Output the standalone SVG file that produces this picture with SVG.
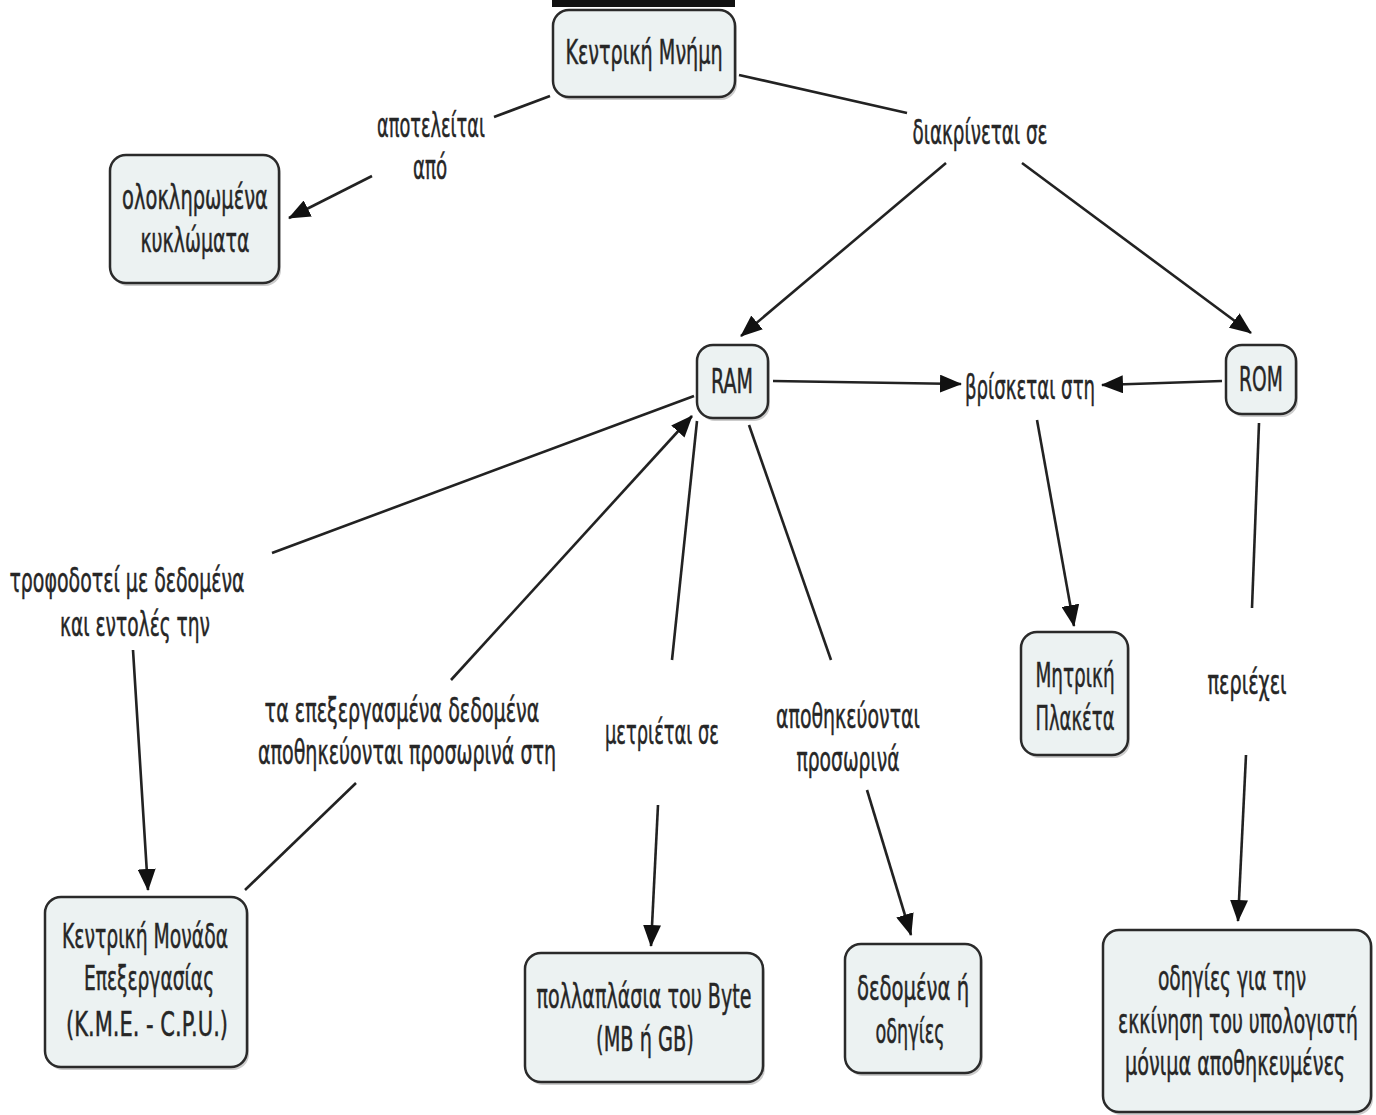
<svg xmlns="http://www.w3.org/2000/svg" width="1376" height="1115" viewBox="0 0 1376 1115">
<style>
.node rect.b{fill:#ecf2f2;stroke:#2a2a2a;stroke-width:2.5}
.node rect.s{fill:#9a9a9a;opacity:0.5}
text{font-family:"DejaVu Sans","Liberation Sans",sans-serif;font-size:33px;fill:#262626;stroke:#262626;stroke-width:0.5;text-anchor:middle}
.conn line{stroke:#222;stroke-width:2.6}
</style>
<defs>
<marker id="ah" viewBox="0 0 22 18" refX="21" refY="9" markerWidth="22" markerHeight="18" markerUnits="userSpaceOnUse" orient="auto">
<path d="M0,0 L22,9 L0,18 z" fill="#111"/>
</marker>
</defs>
<rect x="552" y="0" width="183" height="7" fill="#111"/>
<g class="conn" id="connectors">
<line x1="550" y1="96" x2="494" y2="117"/>
<line x1="372" y1="176" x2="289" y2="218" marker-end="url(#ah)"/>
<line x1="739" y1="75" x2="907" y2="113"/>
<line x1="946" y1="163" x2="741" y2="336" marker-end="url(#ah)"/>
<line x1="1022" y1="163" x2="1251" y2="333" marker-end="url(#ah)"/>
<line x1="773" y1="381" x2="961" y2="384" marker-end="url(#ah)"/>
<line x1="1222" y1="381" x2="1102" y2="385" marker-end="url(#ah)"/>
<line x1="1037" y1="420" x2="1074" y2="626" marker-end="url(#ah)"/>
<line x1="694" y1="396" x2="272" y2="553"/>
<line x1="133" y1="650" x2="148" y2="890" marker-end="url(#ah)"/>
<line x1="245" y1="890" x2="356" y2="783"/>
<line x1="451" y1="680" x2="692" y2="416" marker-end="url(#ah)"/>
<line x1="697" y1="421" x2="672" y2="660"/>
<line x1="658" y1="805" x2="651" y2="946" marker-end="url(#ah)"/>
<line x1="749" y1="425" x2="831" y2="660"/>
<line x1="867" y1="790" x2="911" y2="935" marker-end="url(#ah)"/>
<line x1="1259" y1="423" x2="1252" y2="608"/>
<line x1="1246" y1="755" x2="1238" y2="921" marker-end="url(#ah)"/>
</g>
<g id="n1" class="node"><rect class="s" x="555" y="13" width="182" height="87" rx="16"/><rect class="b" x="553" y="10" width="182" height="87" rx="16"/>
<text transform="translate(644,64) scale(0.6,1)" textLength="262" lengthAdjust="spacingAndGlyphs">Κεντρική Μνήμη</text></g>
<g id="n2" class="node"><rect class="s" x="112" y="158" width="169" height="128" rx="16"/><rect class="b" x="110" y="155" width="169" height="128" rx="16"/>
<text transform="translate(195,209) scale(0.6,1)" textLength="243" lengthAdjust="spacingAndGlyphs">ολοκληρωμένα</text>
<text transform="translate(195,252) scale(0.6,1)" textLength="182" lengthAdjust="spacingAndGlyphs">κυκλώματα</text></g>
<g id="n3" class="node"><rect class="s" x="699" y="348" width="71" height="73" rx="16"/><rect class="b" x="697" y="345" width="71" height="73" rx="16"/>
<text transform="translate(732,393) scale(0.6,1)" textLength="70" lengthAdjust="spacingAndGlyphs">RAM</text></g>
<g id="n4" class="node"><rect class="s" x="1228" y="348" width="70" height="69" rx="16"/><rect class="b" x="1226" y="345" width="70" height="69" rx="16"/>
<text transform="translate(1261,391) scale(0.6,1)" textLength="73" lengthAdjust="spacingAndGlyphs">ROM</text></g>
<g id="n5" class="node"><rect class="s" x="1023" y="635" width="107" height="123" rx="16"/><rect class="b" x="1021" y="632" width="107" height="123" rx="16"/>
<text transform="translate(1075,687) scale(0.6,1)" textLength="132" lengthAdjust="spacingAndGlyphs">Μητρική</text>
<text transform="translate(1075,730) scale(0.6,1)" textLength="132" lengthAdjust="spacingAndGlyphs">Πλακέτα</text></g>
<g id="n6" class="node"><rect class="s" x="47" y="900" width="202" height="170" rx="16"/><rect class="b" x="45" y="897" width="202" height="170" rx="16"/>
<text transform="translate(145,948) scale(0.6,1)" textLength="277" lengthAdjust="spacingAndGlyphs">Κεντρική Μονάδα</text>
<text transform="translate(149,990) scale(0.6,1)" textLength="217" lengthAdjust="spacingAndGlyphs">Επεξεργασίας</text>
<text transform="translate(147,1036) scale(0.6,1)" textLength="270" lengthAdjust="spacingAndGlyphs">(Κ.Μ.Ε. - C.P.U.)</text></g>
<g id="n7" class="node"><rect class="s" x="527" y="956" width="238" height="129" rx="16"/><rect class="b" x="525" y="953" width="238" height="129" rx="16"/>
<text transform="translate(644,1008) scale(0.6,1)" textLength="358" lengthAdjust="spacingAndGlyphs">πολλαπλάσια του Byte</text>
<text transform="translate(645,1051) scale(0.6,1)" textLength="163" lengthAdjust="spacingAndGlyphs">(MB ή GB)</text></g>
<g id="n8" class="node"><rect class="s" x="847" y="947" width="136" height="129" rx="16"/><rect class="b" x="845" y="944" width="136" height="129" rx="16"/>
<text transform="translate(913,1000) scale(0.6,1)" textLength="187" lengthAdjust="spacingAndGlyphs">δεδομένα ή</text>
<text transform="translate(910,1043) scale(0.6,1)" textLength="115" lengthAdjust="spacingAndGlyphs">οδηγίες</text></g>
<g id="n9" class="node"><rect class="s" x="1105" y="933" width="268" height="182" rx="16"/><rect class="b" x="1103" y="930" width="268" height="182" rx="16"/>
<text transform="translate(1232,990) scale(0.6,1)" textLength="247" lengthAdjust="spacingAndGlyphs">οδηγίες για την</text>
<text transform="translate(1238,1033) scale(0.6,1)" textLength="400" lengthAdjust="spacingAndGlyphs">εκκίνηση του υπολογιστή</text>
<text transform="translate(1235,1075) scale(0.6,1)" textLength="367" lengthAdjust="spacingAndGlyphs">μόνιμα αποθηκευμένες</text></g>
<g id="l1"><text transform="translate(431,137) scale(0.6,1)" textLength="180" lengthAdjust="spacingAndGlyphs">αποτελείται</text>
<text transform="translate(430,179) scale(0.6,1)" textLength="57" lengthAdjust="spacingAndGlyphs">από</text></g>
<g id="l2"><text transform="translate(980,144) scale(0.6,1)" textLength="225" lengthAdjust="spacingAndGlyphs">διακρίνεται σε</text></g>
<g id="l3"><text transform="translate(1030,399) scale(0.6,1)" textLength="217" lengthAdjust="spacingAndGlyphs">βρίσκεται στη</text></g>
<g id="l4"><text transform="translate(127,592) scale(0.6,1)" textLength="392" lengthAdjust="spacingAndGlyphs">τροφοδοτεί με δεδομένα</text>
<text transform="translate(135,636) scale(0.6,1)" textLength="250" lengthAdjust="spacingAndGlyphs">και εντολές την</text></g>
<g id="l5"><text transform="translate(402,722) scale(0.6,1)" textLength="458" lengthAdjust="spacingAndGlyphs">τα επεξεργασμένα δεδομένα</text>
<text transform="translate(407,764) scale(0.6,1)" textLength="497" lengthAdjust="spacingAndGlyphs">αποθηκεύονται προσωρινά στη</text></g>
<g id="l6"><text transform="translate(662,744) scale(0.6,1)" textLength="190" lengthAdjust="spacingAndGlyphs">μετριέται σε</text></g>
<g id="l7"><text transform="translate(848,728) scale(0.6,1)" textLength="240" lengthAdjust="spacingAndGlyphs">αποθηκεύονται</text>
<text transform="translate(848,771) scale(0.6,1)" textLength="172" lengthAdjust="spacingAndGlyphs">προσωρινά</text></g>
<g id="l8"><text transform="translate(1247,694) scale(0.6,1)" textLength="132" lengthAdjust="spacingAndGlyphs">περιέχει</text></g>
</svg>
